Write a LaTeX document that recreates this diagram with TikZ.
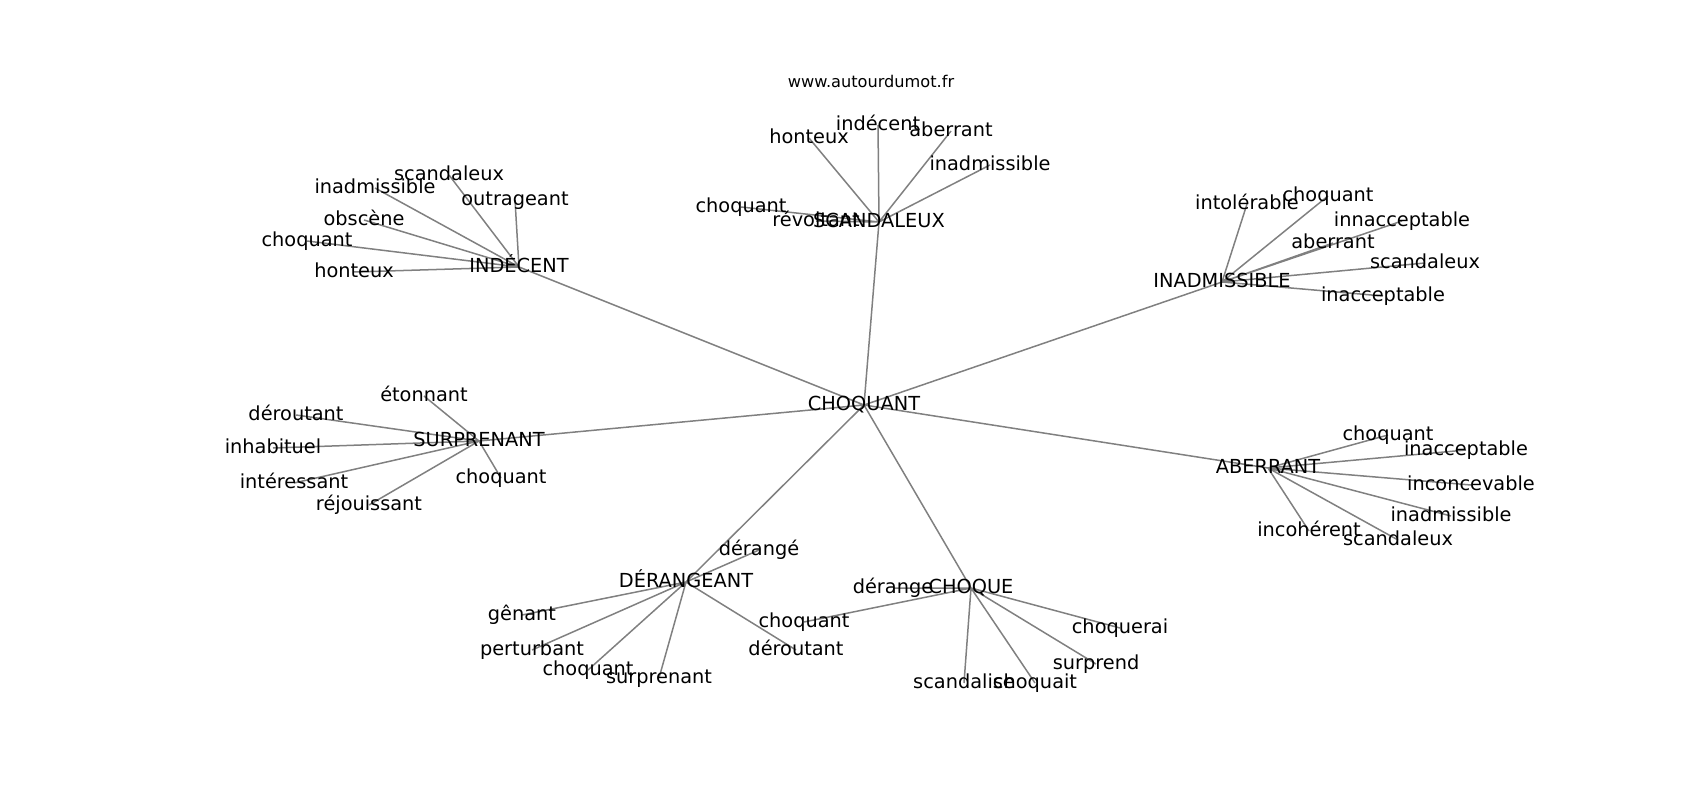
\documentclass[tikz,border=0pt]{standalone}
\usepackage{fontspec}
\setmainfont{DejaVu Sans}
\usetikzlibrary{backgrounds}
\tikzset{
    %Define style for words
    mot/.style={
           inner sep=0pt,
           text height=8.8pt,
           text depth=2.4pt,
           font=\fontsize{11.6}{14}\selectfont},
    %Define style for the site name
    titre/.style={
           inner sep=0pt,
           text height=7.4pt,
           text depth=2pt,
           font=\fontsize{9.7}{12}\selectfont},
    % Define line style
    lien/.style={
           draw=gray,
           line width=0.9pt}
}

\begin{document}
\begin{tikzpicture}[x=0.6pt, y=-0.6pt]
\useasboundingbox (0,0) rectangle (1700,800);
\node[titre](site) at (871,83){www.autourdumot.fr};
% hubs
\node[mot](choquant) at (864,405){CHOQUANT};
\node[mot](scandaleux) at (879,222){SCANDALEUX};
\node[mot](indecent) at (519,267){INDÉCENT};
\node[mot](inadmissible) at (1222,282){INADMISSIBLE};
\node[mot](surprenant) at (479,441){SURPRENANT};
\node[mot](aberrant) at (1268,468){ABERRANT};
\node[mot](derangeant) at (686,582){DÉRANGEANT};
\node[mot](choque) at (971,588){CHOQUE};
% scandaleux
\node[mot](scHon) at (809,138){honteux};
\node[mot](scInd) at (878,125){indécent};
\node[mot](scAbe) at (951,131){aberrant};
\node[mot](scIna) at (990,165){inadmissible};
\node[mot](scCho) at (741,207){choquant};
\node[mot](scRev) at (816,221){révoltant};
% indecent
\node[mot](inSca) at (449,175){scandaleux};
\node[mot](inIna) at (375,188){inadmissible};
\node[mot](inOut) at (515,200){outrageant};
\node[mot](inObs) at (364,220){obscène};
\node[mot](inCho) at (307,241){choquant};
\node[mot](inHon) at (354,272){honteux};
% inadmissible
\node[mot](adInt) at (1247,204){intolérable};
\node[mot](adCho) at (1328,196){choquant};
\node[mot](adInn) at (1402,221){innacceptable};
\node[mot](adAbe) at (1333,243){aberrant};
\node[mot](adSca) at (1425,263){scandaleux};
\node[mot](adIna) at (1383,296){inacceptable};
% surprenant
\node[mot](suEto) at (424,396){étonnant};
\node[mot](suDer) at (296,415){déroutant};
\node[mot](suInh) at (273,448){inhabituel};
\node[mot](suCho) at (501,478){choquant};
\node[mot](suInt) at (294,483){intéressant};
\node[mot](suRej) at (369,505){réjouissant};
% aberrant
\node[mot](abCho) at (1388,435){choquant};
\node[mot](abIna) at (1466,450){inacceptable};
\node[mot](abInc) at (1471,485){inconcevable};
\node[mot](abAdm) at (1451,516){inadmissible};
\node[mot](abIcr) at (1309,531){incohérent};
\node[mot](abSca) at (1398,540){scandaleux};
% derangeant
\node[mot](deDer) at (759,550){dérangé};
\node[mot](deGen) at (522,615){gênant};
\node[mot](dePer) at (532,650){perturbant};
\node[mot](deCho) at (588,670){choquant};
\node[mot](deSur) at (659,678){surprenant};
\node[mot](deDro) at (796,650){déroutant};
% choque
\node[mot](cqDer) at (893,588){dérange};
\node[mot](cqCho) at (804,622){choquant};
\node[mot](cqCre) at (1120,628){choquerai};
\node[mot](cqSur) at (1096,664){surprend};
\node[mot](cqSca) at (964,683){scandalise};
\node[mot](cqCht) at (1035,683){choquait};
% links, behind the words
\begin{pgfonlayer}{background}
\draw[lien] (choquant.center) -- (scandaleux.center)
  (choquant.center) -- (indecent.center)
  (choquant.center) -- (inadmissible.center)
  (choquant.center) -- (surprenant.center)
  (choquant.center) -- (aberrant.center)
  (choquant.center) -- (derangeant.center)
  (choquant.center) -- (choque.center);
\draw[lien] (scandaleux.center) -- (scHon.center)
  (scandaleux.center) -- (scInd.center)
  (scandaleux.center) -- (scAbe.center)
  (scandaleux.center) -- (scIna.center)
  (scandaleux.center) -- (scCho.center)
  (scandaleux.center) -- (scRev.center);
\draw[lien] (indecent.center) -- (inSca.center)
  (indecent.center) -- (inIna.center)
  (indecent.center) -- (inOut.center)
  (indecent.center) -- (inObs.center)
  (indecent.center) -- (inCho.center)
  (indecent.center) -- (inHon.center);
\draw[lien] (inadmissible.center) -- (adInt.center)
  (inadmissible.center) -- (adCho.center)
  (inadmissible.center) -- (adInn.center)
  (inadmissible.center) -- (adAbe.center)
  (inadmissible.center) -- (adSca.center)
  (inadmissible.center) -- (adIna.center);
\draw[lien] (surprenant.center) -- (suEto.center)
  (surprenant.center) -- (suDer.center)
  (surprenant.center) -- (suInh.center)
  (surprenant.center) -- (suCho.center)
  (surprenant.center) -- (suInt.center)
  (surprenant.center) -- (suRej.center);
\draw[lien] (aberrant.center) -- (abCho.center)
  (aberrant.center) -- (abIna.center)
  (aberrant.center) -- (abInc.center)
  (aberrant.center) -- (abAdm.center)
  (aberrant.center) -- (abIcr.center)
  (aberrant.center) -- (abSca.center);
\draw[lien] (derangeant.center) -- (deDer.center)
  (derangeant.center) -- (deGen.center)
  (derangeant.center) -- (dePer.center)
  (derangeant.center) -- (deCho.center)
  (derangeant.center) -- (deSur.center)
  (derangeant.center) -- (deDro.center);
\draw[lien] (choque.center) -- (cqDer.center)
  (choque.center) -- (cqCho.center)
  (choque.center) -- (cqCre.center)
  (choque.center) -- (cqSur.center)
  (choque.center) -- (cqSca.center)
  (choque.center) -- (cqCht.center);
\end{pgfonlayer}
\end{tikzpicture}
\end{document}
